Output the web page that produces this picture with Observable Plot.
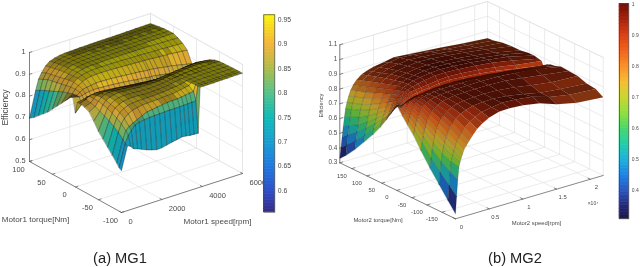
<!DOCTYPE html>
<html><head><meta charset="utf-8">
<script src="https://cdn.jsdelivr.net/npm/d3@7"></script>
<script src="https://cdn.jsdelivr.net/npm/@observablehq/plot@0.6"></script>
<style>
html,body{margin:0;padding:0;background:#fff;width:640px;height:267px;overflow:hidden}
#page{width:640px;height:267px;position:relative;filter:blur(.35px);font-family:"Liberation Sans",sans-serif}
#stack{position:relative;width:640px;height:240px}
#stack svg{position:absolute;left:0;top:0;background:transparent;overflow:visible}
#caps{height:27px;position:relative;color:#222;font-size:14.7px;line-height:1}
#caps div{position:absolute;top:11px;transform:translateX(-50%);white-space:nowrap}
</style></head><body>
<div id="page"><div id="stack"></div><div id="caps"><div style="left:120px">(a) MG1</div><div style="left:515px">(b) MG2</div></div></div>
<script>
// ---------- MG1 ----------
const speedsA=[0,300,450,600,800,1000,1250,1500,1750,2000,2250,2500,2750,3000,3200,3400,3600,3800,3900,4100,4300,4600,4800,5000,5250,5500,5750,6000];
const torquesA=[100,90,80,70,60,50,40,30,20,10,5,0,-5,-10,-20,-30,-40,-50,-60,-70,-80,-90,-95,-100];
const effA=[
[.70,.816,.865,.89,.915,.93,.938,.943,.945,.946,.947,.948,.948,.949,.949,.95,.95,.95,.95,.95,.951,.951,.952,.952,.953,.953,.954,.954],
[.715,.83,.875,.90,.92,.935,.942,.947,.949,.95,.951,.952,.952,.953,.953,.954,.954,.954,.954,.954,.955,.955,.956,.956,.957,.957,.958,.958],
[.735,.84,.885,.905,.925,.94,.947,.951,.953,.954,.955,.956,.956,.957,.957,.958,.958,.958,.958,.958,.959,.959,.96,.96,.961,.961,.962,.962],
[.755,.85,.89,.91,.93,.943,.95,.954,.956,.957,.958,.959,.959,.96,.96,.961,.961,.961,.961,.961,.962,.962,.963,.963,.964,.964,.965,.965],
[.775,.86,.895,.915,.933,.946,.953,.956,.958,.959,.96,.961,.961,.962,.962,.963,.963,.963,.963,.963,.964,.964,.965,.965,.966,.966,.966,.966],
[.80,.87,.90,.92,.936,.948,.954,.958,.96,.96,.961,.962,.962,.963,.963,.964,.964,.964,.964,.964,.965,.965,.966,.966,.966,.966,.967,.967],
[.825,.88,.905,.925,.938,.949,.955,.958,.96,.96,.961,.962,.962,.962,.962,.962,.962,.962,.962,.962,.962,.962,.961,.961,.96,.96,.959,.958],
[.85,.888,.91,.927,.94,.948,.953,.956,.957,.957,.957,.957,.956,.956,.955,.955,.954,.954,.954,.953,.952,.951,.95,.95,.948,.947,.946,.945],
[.875,.895,.912,.925,.935,.943,.947,.949,.949,.949,.948,.947,.946,.945,.944,.943,.942,.941,.941,.94,.938,.936,.935,.934,.932,.93,.928,.925],
[.90,.90,.91,.918,.922,.925,.928,.928,.927,.926,.924,.922,.92,.918,.916,.915,.912,.91,.91,.908,.905,.90,.897,.895,.89,.885,.88,.875],
[.905,.898,.90,.905,.908,.91,.91,.908,.907,.905,.903,.90,.898,.895,.892,.89,.888,.885,.885,.883,.88,.875,.872,.87,.865,.86,.855,.85],
[.84,.87,.88,.885,.89,.89,.89,.888,.886,.884,.882,.88,.878,.875,.872,.87,.868,.865,.865,.863,.86,.858,.856,.855,.852,.85,.848,.845],
[.895,.90,.905,.905,.905,.903,.90,.898,.896,.894,.892,.89,.888,.885,.882,.88,.878,.877,.877,.875,.872,.869,.867,.865,.862,.86,.858,.855],
[.895,.905,.915,.918,.92,.92,.918,.915,.913,.91,.907,.905,.902,.90,.897,.895,.893,.892,.892,.89,.888,.885,.883,.882,.88,.878,.876,.875],
[.89,.90,.915,.925,.93,.932,.93,.928,.926,.923,.92,.918,.916,.914,.913,.912,.911,.91,.91,.912,.915,.918,.922,.925,.928,.93,.926,.92],
[.88,.895,.915,.928,.935,.938,.938,.936,.935,.933,.931,.93,.929,.928,.929,.93,.932,.935,.935,.937,.94,.942,.944,.945,.945,.945,.943,.94],
[.85,.885,.91,.926,.935,.94,.942,.94,.939,.937,.936,.935,.935,.935,.937,.94,.943,.945,.945,.947,.95,.952,.954,.955,.955,.954,.952,.95],
[.815,.875,.905,.92,.932,.938,.94,.94,.939,.937,.936,.935,.936,.937,.939,.942,.945,.947,.948,.95,.953,.955,.956,.956,.956,.956,.956,.955],
[.79,.865,.895,.915,.925,.933,.937,.937,.936,.935,.934,.935,.936,.938,.94,.943,.946,.948,.95,.952,.955,.956,.957,.957,.957,.957,.957,.957],
[.765,.85,.885,.905,.918,.926,.93,.932,.932,.932,.932,.934,.935,.937,.94,.942,.945,.948,.952,.954,.956,.957,.958,.958,.958,.958,.958,.958],
[.74,.835,.87,.89,.905,.915,.92,.925,.926,.927,.928,.93,.931,.932,.935,.938,.942,.945,.955,.956,.957,.958,.958,.958,.959,.959,.959,.959],
[.715,.815,.85,.865,.875,.884,.895,.905,.908,.912,.915,.918,.919,.92,.922,.925,.928,.93,.957,.957,.958,.958,.959,.959,.959,.959,.96,.96],
[.70,.80,.835,.852,.872,.878,.882,.885,.886,.887,.888,.889,.889,.889,.89,.891,.892,.892,.958,.958,.958,.958,.959,.959,.959,.96,.96,.96],
[.693,.797,.79,.775,.768,.76,.75,.742,.736,.737,.742,.748,.752,.757,.755,.752,.751,.75,.958,.958,.958,.958,.959,.959,.959,.96,.96,.96]
];
const wallTintA=[.80,.72];
const speedTicksA=[0,2000,4000,6000];
const torqueTicksA=[100,50,0,-50,-100];
const effTicksA=[.5,.6,.7,.8,.9,1];
const barTicksA=[.6,.65,.7,.75,.8,.85,.9,.95];
const barDomainA=[.556,.96];
const barStopsA=[.556,.6,.65,.7,.75,.8,.85,.9,.96];
const barColorsA=["#352a87","#2f4fc8","#1f78e0","#1a9fd0","#0fbcb8","#55c38a","#adbd4a","#f5b53a","#f9f50f"];

// ---------- MG2 ----------
const speedsB=[0,170,340,510,680,850,1050,1300,1600,2000,2500,3200,4000,5000,6500,8000,10000,12500,15000,18000,21900];
const torquesB=[190,170,140,110,80,55,35,20,10,5,0,-5,-10,-20,-35,-55,-80,-110,-140,-170,-195];
const effB=[
[.33,.40,.47,.54,.60,.655,.695,.733,.77,.803,.83,.855,.871,.885,.895,.909,.90,.89,.88,.865,.851],
[.37,.44,.505,.565,.62,.67,.71,.75,.785,.815,.845,.87,.885,.90,.915,.925,.918,.905,.89,.875,.855],
[.44,.50,.555,.60,.65,.695,.73,.77,.805,.835,.865,.89,.905,.92,.932,.94,.935,.925,.91,.89,.87],
[.52,.565,.61,.65,.69,.725,.76,.795,.83,.86,.885,.91,.925,.938,.948,.955,.95,.94,.925,.905,.875],
[.60,.635,.67,.70,.735,.765,.795,.825,.855,.88,.905,.925,.94,.95,.96,.965,.96,.95,.935,.915,.876],
[.675,.70,.725,.75,.775,.80,.825,.85,.875,.90,.92,.938,.95,.96,.97,.975,.97,.96,.945,.925,.885],
[.745,.76,.775,.795,.815,.835,.855,.875,.895,.915,.93,.945,.955,.965,.975,.98,.975,.965,.95,.93,.886],
[.80,.81,.82,.835,.85,.86,.875,.89,.905,.92,.93,.94,.95,.96,.97,.972,.968,.958,.945,.92,.88],
[.84,.845,.85,.855,.865,.875,.885,.895,.905,.915,.925,.93,.935,.94,.95,.955,.95,.94,.925,.90,.874],
[.86,.86,.862,.866,.87,.875,.88,.89,.90,.905,.91,.915,.92,.925,.935,.938,.93,.92,.905,.88,.85],
[.876,.87,.868,.866,.866,.868,.87,.875,.88,.885,.89,.895,.90,.905,.91,.91,.905,.895,.88,.86,.83],
[.865,.865,.868,.872,.876,.88,.885,.89,.895,.90,.905,.91,.915,.92,.925,.925,.92,.91,.895,.875,.85],
[.85,.86,.87,.88,.89,.895,.90,.905,.91,.915,.92,.925,.93,.935,.94,.94,.935,.925,.91,.89,.87],
[.82,.84,.855,.87,.885,.90,.91,.918,.925,.93,.935,.94,.945,.948,.952,.953,.948,.938,.922,.90,.88],
[.78,.80,.825,.845,.865,.885,.90,.912,.925,.932,.94,.945,.95,.955,.955,.955,.957,.955,.945,.923,.885],
[.73,.76,.79,.82,.84,.86,.88,.90,.915,.925,.935,.945,.95,.955,.957,.958,.96,.957,.95,.935,.90],
[.65,.70,.74,.775,.80,.825,.85,.875,.895,.91,.925,.94,.948,.955,.958,.96,.96,.955,.94,.92,.895],
[.56,.625,.68,.725,.76,.79,.815,.845,.87,.89,.91,.93,.942,.95,.955,.957,.953,.94,.92,.90,.89],
[.48,.56,.63,.68,.72,.75,.78,.81,.84,.865,.89,.915,.93,.945,.95,.952,.945,.925,.90,.885,.87],
[.40,.50,.59,.655,.695,.72,.75,.78,.805,.83,.86,.89,.912,.932,.945,.955,.95,.935,.90,.875,.862],
[.334,.45,.56,.645,.675,.70,.725,.755,.775,.80,.83,.866,.895,.92,.94,.942,.935,.915,.875,.845,.83]
];
const speedTicksB=[0,5000,10000,15000,20000];
const speedLabelsB=["0","0.5","1","1.5","2"];
const torqueTicksB=[150,100,50,0,-50,-100,-150];
const effTicksB=[.3,.4,.5,.6,.7,.8,.9,1,1.1];
const barTicksB=[.4,.5,.6,.7,.8,.9,1];
const barDomainB=[.31,1.003];
const barStopsB=[.31,.35,.4,.45,.5,.55,.6,.65,.7,.75,.8,.85,.9,.95,1];
const barColorsB=["#1e1946","#232878","#2d55be","#1e82e6","#1eafdc","#23cdaa","#46d76e","#8ce13c","#c8d732","#f5be32","#fa9128","#f0641e","#dc4114","#aa230a","#730f05"];

// how much the fine mesh darkens a face, by how much the face is foreshortened
const meshLimits=[.85,1.2,1.8,3];
const meshShadeA=[.62,.5,.38,.22,.1];
const meshShadeB=[.62,.55,.45,.32,.22];

const geoA={sMax:6000,tMin:-100,tMax:100,eMin:.5,eMax:1,ox:121,oy:212,sx:121,sy:-39,tx:-92,ty:-51,k:218};
const geoB={sMax:21900,tMin:-195,tMax:190,eMin:.3,eMax:1.1,ox:455,oy:218.3,sx:147.7,sy:-43.3,tx:-115.7,ty:-56,k:147.5};
const W=640,H=240;
function pt(g,s,t,e){const f=s/g.sMax,u=(t-g.tMin)/(g.tMax-g.tMin);
  return {x:g.ox+f*g.sx+u*g.tx,y:g.oy+f*g.sy+u*g.ty-(e-g.eMin)*g.k};}
function facing(g,S,T,E,i,j){
  const p=pt(g,S[i],T[j],E[j][i]),a=pt(g,S[i+1],T[j],E[j][i+1]),b=pt(g,S[i],T[j+1],E[j+1][i]),c=pt(g,S[i+1],T[j+1],E[j+1][i+1]);
  const area=Math.abs((c.x-p.x)*(b.y-a.y)-(c.y-p.y)*(b.x-a.x))/2;
  const plan=Math.abs(g.sx*g.ty-g.sy*g.tx)*((S[i+1]-S[i])/g.sMax)*(Math.abs(T[j+1]-T[j])/(g.tMax-g.tMin));
  return area/plan;}
function quads(g,S,T,E,tint,opacity){const out=[];let q=0;
  for(let i=S.length-2;i>=0;i--)for(let j=0;j<T.length-1;j++){
    let c=(E[j][i]+E[j+1][i])/2;
    if(tint&&S[i]>=300&&S[i+1]<=3800&&j>=T.length-3)c=tint[j-(T.length-3)];
    const lvl=d3.bisect(meshLimits,facing(g,S,T,E,i,j));
    c+=lvl*10;
    const o=opacity(S[i]);
    [[i,j],[i+1,j],[i+1,j+1],[i,j+1]].forEach(([a,b])=>out.push({q,c,o,...pt(g,S[a],T[b],E[b][a])}));
    q++;}
  return out;}
function seg(list,g,a,b){const id=list.length;list.push({id,...pt(g,...a)},{id,...pt(g,...b)});}
function box(g,ST,TT,ET){const grid=[],edge=[];const {sMax:sm,tMin:t0,tMax:t1,eMin:e0,eMax:e1}=g;
  ST.forEach(s=>{seg(grid,g,[s,t0,e0],[s,t1,e0]);seg(grid,g,[s,t1,e0],[s,t1,e1]);
    seg(edge,g,[s,t0,e0],[s,t0+(t1-t0)*.02,e0]);});
  TT.forEach(t=>{seg(grid,g,[0,t,e0],[sm,t,e0]);seg(grid,g,[sm,t,e0],[sm,t,e1]);
    seg(edge,g,[0,t,e0],[sm*.02,t,e0]);});
  ET.forEach(e=>{seg(grid,g,[0,t1,e],[sm,t1,e]);seg(grid,g,[sm,t1,e],[sm,t0,e]);
    seg(edge,g,[0,t1,e],[sm*.02,t1,e]);});
  seg(grid,g,[sm,t1,e0],[sm,t1,e1]);seg(grid,g,[0,t1,e1],[sm,t1,e1]);seg(grid,g,[sm,t0,e0],[sm,t0,e1]);seg(grid,g,[sm,t1,e1],[sm,t0,e1]);
  seg(edge,g,[0,t1,e0],[0,t1,e1]);seg(edge,g,[0,t1,e0],[0,t0,e0]);seg(edge,g,[0,t0,e0],[sm,t0,e0]);
  return {grid,edge};}
function shade(col,k){const c=d3.rgb(col);return d3.rgb(c.r*(1-k),c.g*(1-k),c.b*(1-k)).formatHex();}
function surface(g,S,T,E,ST,TT,ET,stops,colors,levels,sw,opacity,tint,texts){
  const {grid,edge}=box(g,ST,TT,ET);
  const dom=[],ran=[];
  levels.forEach((k,l)=>stops.forEach((v,n)=>{dom.push(v+l*10);ran.push(shade(colors[n],k));}));
  return Plot.plot({width:W,height:H,margin:0,
    x:{domain:[0,W],axis:null},y:{domain:[H,0],axis:null},
    color:{type:"linear",domain:dom,range:ran},
    marks:[
      Plot.line(grid,{x:"x",y:"y",z:"id",stroke:"#e2e2e2",strokeWidth:.7}),
      Plot.line(edge,{x:"x",y:"y",z:"id",stroke:"#555",strokeWidth:.7}),
      Plot.line(quads(g,S,T,E,tint,opacity),{x:"x",y:"y",z:"q",fill:"c",stroke:"#000",strokeWidth:sw,strokeOpacity:"o",curve:"linear-closed"}),
      ...texts
    ]});}
function label(rows,size,anchor){return Plot.text(rows,{x:"x",y:"y",text:"label",fontSize:size,fill:"#4a4a4a",textAnchor:anchor||"middle",rotate:d=>d.r||0,fontFamily:"Liberation Sans"});}
function colorbar(domain,ticks,stops,colors,left,right,top,bottom,size,fmt){
  const n=64,lv=d3.range(n).map(i=>({a:domain[0]+(domain[1]-domain[0])*i/n,b:domain[0]+(domain[1]-domain[0])*(i+1)/n}));
  return Plot.plot({width:W,height:H,marginLeft:left,marginRight:W-right,marginTop:top,marginBottom:H-bottom,
    x:{domain:[0,1],axis:null},y:{domain,axis:null},
    color:{type:"linear",domain:stops,range:colors},
    marks:[
      Plot.rect(lv,{x1:0,x2:1,y1:"a",y2:"b",fill:d=>(d.a+d.b)/2,stroke:d=>(d.a+d.b)/2,strokeWidth:.6}),
      Plot.frame({stroke:"#444",strokeWidth:.7}),
      Plot.axisY({anchor:"right",ticks,tickSize:0,tickPadding:3,tickFormat:fmt,fontSize:size,color:"#4a4a4a",label:null,fontFamily:"Liberation Sans"})
    ]});}
const f2=d=>String(+d.toFixed(2));

const textsA=[
  label(effTicksA.map(e=>{const p=pt(geoA,0,100,e);return {x:p.x-4,y:p.y-1,label:String(e)};}),7.4,"end"),
  label(torqueTicksA.map(t=>{const p=pt(geoA,0,t,.5);return {x:p.x-11,y:p.y+8,label:String(t)};}),7.5),
  label(speedTicksA.map(s=>{const p=pt(geoA,s,-100,.5);return {x:p.x+7,y:p.y+9,label:String(s)};}),7.5,"start"),
  label([{x:4.5,y:107,label:"Efficiency",r:-90}],8.5),
  label([{x:35,y:218.5,label:"Motor1 torque[Nm]"},{x:217,y:221,label:"Motor1 speed[rpm]"}],8.1)
];
const textsB=[
  label(effTicksB.map(e=>{const p=pt(geoB,0,190,e);return {x:p.x-2.5,y:p.y-.5,label:String(e)};}),6.3,"end"),
  label(torqueTicksB.map(t=>{const p=pt(geoB,0,t,.3);return {x:p.x-10,y:p.y+7,label:String(t)};}),5.9),
  label(speedTicksB.map((s,i)=>{const p=pt(geoB,s,-195,.3);return {x:p.x+6,y:p.y+8,label:speedLabelsB[i]};}),5.9),
  label([{x:592.5,y:203,label:"×10⁴"}],5),
  label([{x:320.5,y:105,label:"Efficiency",r:-90}],5.6),
  label([{x:377.5,y:220,label:"Motor2 torque[Nm]"},{x:536,y:223,label:"Motor2 speed[rpm]"}],5.9)
];
const stack=document.getElementById("stack");
stack.append(
  surface(geoA,speedsA,torquesA,effA,speedTicksA,torqueTicksA,effTicksA,barStopsA,barColorsA,meshShadeA,.5,()=>.6,wallTintA,textsA),
  colorbar(barDomainA,barTicksA,barStopsA,barColorsA,263.3,274.3,14.3,211.7,6.8,f2),
  surface(geoB,speedsB,torquesB,effB,speedTicksB,torqueTicksB,effTicksB,barStopsB,barColorsB,meshShadeB,.35,s=>s<2500?.45:.12,null,textsB),
  colorbar(barDomainB,barTicksB,barStopsB,barColorsB,619,628.3,3.3,218.3,5,f2)
);
</script></body></html>
